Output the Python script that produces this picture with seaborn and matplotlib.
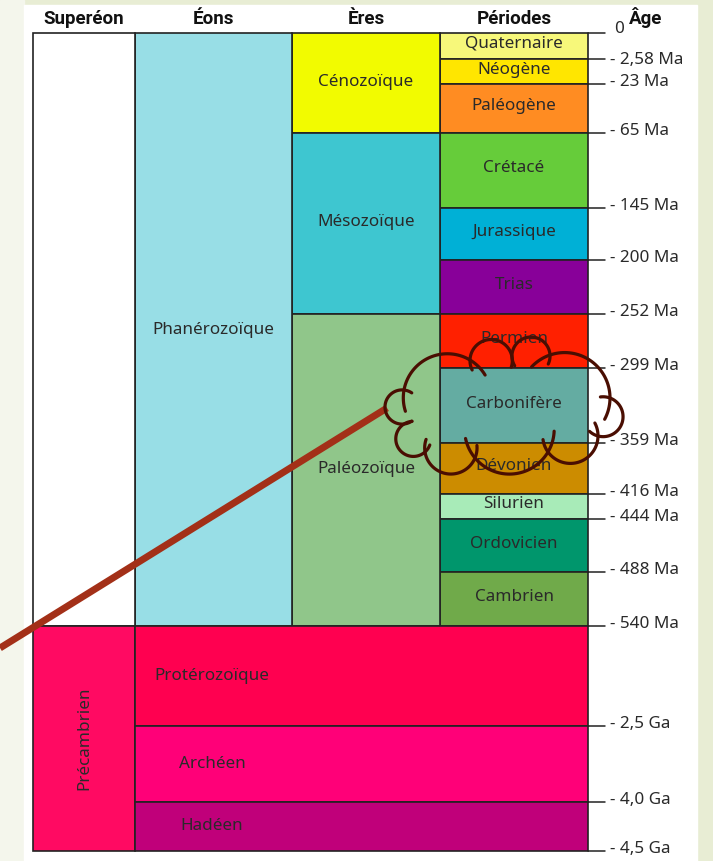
import numpy as np
import matplotlib
matplotlib.use("Agg")
import matplotlib.pyplot as plt
import seaborn as sns
from matplotlib.patches import Rectangle

sns.set_theme(style="white")
plt.rcParams['font.family'] = ['Noto Sans', 'DejaVu Sans']

# --- data ---
periods = ["Quaternaire", "Néogène", "Paléogène", "Crétacé", "Jurassique", "Trias",
           "Permien", "Carbonifère", "Dévonien", "Silurien", "Ordovicien", "Cambrien"]
period_colors = ["#f7f87a", "#ffe600", "#ff8c22", "#66cc3a", "#00b0d6", "#880099",
                 "#ff2000", "#64aca2", "#cc8c00", "#a8ebb8", "#00966c", "#70aa4a"]
eras = ["Cénozoïque", "Mésozoïque", "Paléozoïque"]
era_colors = ["#f2fb00", "#3ec6d0", "#90c68a"]
era_n_periods = [3, 3, 6]
precambrian_eons = ["Protérozoïque", "Archéen", "Hadéen"]
precambrian_colors = ["#ff0050", "#ff0078", "#c0007a"]
age_labels = ["0", "- 2,58 Ma", "- 23 Ma", "- 65 Ma", "- 145 Ma", "- 200 Ma", "- 252 Ma",
              "- 299 Ma", "- 359 Ma", "- 416 Ma", "- 444 Ma", "- 488 Ma", "- 540 Ma",
              "- 2,5 Ga", "- 4,0 Ga", "- 4,5 Ga"]
headers = ["Superéon", "Éons", "Ères", "Périodes"]

# schematic (non linear) row heights, in pixels
period_rows = [26, 25, 49, 75, 52, 54, 54, 75, 51, 25, 53, 54]
precambrian_rows = [100, 76, 49]

# --- layout ---
top = 33
cols = [33, 135, 292, 440, 588]
edge = "#222222"
txt = "#2a2a2a"
fs = 12.3
head = dict(fontsize=13.5, fontweight="bold", color="#111111", family=["Roboto", "DejaVu Sans"])

fig = plt.figure(figsize=(7.13, 8.61), dpi=100)
fig.patch.set_facecolor("#e8edd4")
ax = fig.add_axes([0, 0, 1, 1])
ax.set_xlim(0, 713)
ax.set_ylim(861, 0)
ax.axis("off")
ax.add_patch(Rectangle((0, 0), 24, 861, color="#f4f6ec", zorder=0))
ax.add_patch(Rectangle((24, 5), 673, 860, color="white", zorder=0))

def col(i, j=None):
    j = i + 1 if j is None else j
    return (cols[i] + cols[j]) / 2, cols[j] - cols[i]

# periods
p_bottoms = top + np.concatenate([[0], np.cumsum(period_rows)[:-1]])
x, w = col(3)
ax.bar(x, period_rows, width=w, bottom=p_bottoms, color=period_colors,
       edgecolor=edge, linewidth=1.2, zorder=2)
for name, b, h in zip(periods, p_bottoms, period_rows):
    ax.text(x, b + h / 2 - 2, name, ha="center", va="center", fontsize=fs, color=txt, zorder=3)

# eras
idx = np.concatenate([[0], np.cumsum(era_n_periods)])
era_h = [sum(period_rows[idx[k]:idx[k + 1]]) for k in range(3)]
era_b = top + np.concatenate([[0], np.cumsum(era_h)[:-1]])
x, w = col(2)
ax.bar(x, era_h, width=w, bottom=era_b, color=era_colors, edgecolor=edge, linewidth=1.2, zorder=2)
for name, b, h in zip(eras, era_b, era_h):
    ax.text(x, b + h / 2 - 1, name, ha="center", va="center", fontsize=fs, color=txt, zorder=3)

# phanerozoic eon + supereon
phan_h = sum(period_rows)
x, w = col(1)
ax.bar(x, phan_h, width=w, bottom=top, color="#98dee6", edgecolor=edge, linewidth=1.2, zorder=2)
ax.text(x, top + phan_h / 2, "Phanérozoïque", ha="center", va="center", fontsize=fs, color=txt, zorder=3)
x, w = col(0)
ax.bar(x, phan_h, width=w, bottom=top, color="white", edgecolor=edge, linewidth=1.2, zorder=2)

# precambrian
pre_top = top + phan_h
pre_h = sum(precambrian_rows)
ax.bar(x, pre_h, width=w, bottom=pre_top, color="#ff0a62", edgecolor=edge, linewidth=1.2, zorder=2)
ax.text(x, pre_top + pre_h / 2, "Précambrien", ha="center", va="center", rotation=90,
        fontsize=fs, color=txt, zorder=3)
pb = pre_top + np.concatenate([[0], np.cumsum(precambrian_rows)[:-1]])
x, w = col(1, 4)
ax.bar(x, precambrian_rows, width=w, bottom=pb, color=precambrian_colors,
       edgecolor=edge, linewidth=1.2, zorder=2)
for name, b, h, xl in zip(precambrian_eons, pb, precambrian_rows, [154, 179, 180]):
    ax.text(xl, b + h / 2, name, ha="left", va="center", fontsize=fs, color=txt, zorder=3)

# headers
for k, name in enumerate(headers):
    ax.text(col(k)[0], 19, name, ha="center", va="center", **head)
ax.text(646, 18, "Âge", ha="center", va="center", **head)

# age ticks
bounds = top + np.concatenate([[0], np.cumsum(period_rows), phan_h + np.cumsum(precambrian_rows)])
for k, (lab, y) in enumerate(zip(age_labels, bounds)):
    ax.plot([588, 605], [y, y], color=edge, lw=1.1, zorder=3)
    dy = -4 if k == 0 else (1 if k == 1 else -2)
    xl = 614 if k == 0 else 610
    ax.text(xl, y + dy, lab, ha="left", va="center", fontsize=fs, color=txt)

# annotation: line + cloud around Carbonifère
ax.plot([0, 387], [648, 408], color="#a33018", lw=5, solid_capstyle="butt", zorder=5)
cloud = np.array([(404, 390), (470, 360), (512, 357), (550, 355), (610, 398),
                  (598, 436), (548, 452), (475, 458), (425, 452), (404, 424)], dtype=float)
cc = cloud.mean(axis=0)
sag, hook = 19.0, np.radians(28)
for i in range(len(cloud)):
    p0, p1 = cloud[i], cloud[(i + 1) % len(cloud)]
    mid = (p0 + p1) / 2
    c = np.linalg.norm(p1 - p0)
    nrm = np.array([-(p1 - p0)[1], (p1 - p0)[0]]) / c
    if np.dot(nrm, mid - cc) < 0:
        nrm = -nrm
    r = (c * c / 4 + sag * sag) / (2 * sag)
    off = r - sag
    ctr = mid - nrm * off
    a = np.arctan2(nrm[1], nrm[0])
    half = np.arctan2(c / 2, off) + hook
    th = np.linspace(a - half, a + half, 60)
    ax.plot(ctr[0] + r * np.cos(th), ctr[1] + r * np.sin(th), color="#4a0e02", lw=2.3,
            zorder=6, solid_capstyle="round")

fig.savefig("out.png", dpi=100, facecolor=fig.get_facecolor())
